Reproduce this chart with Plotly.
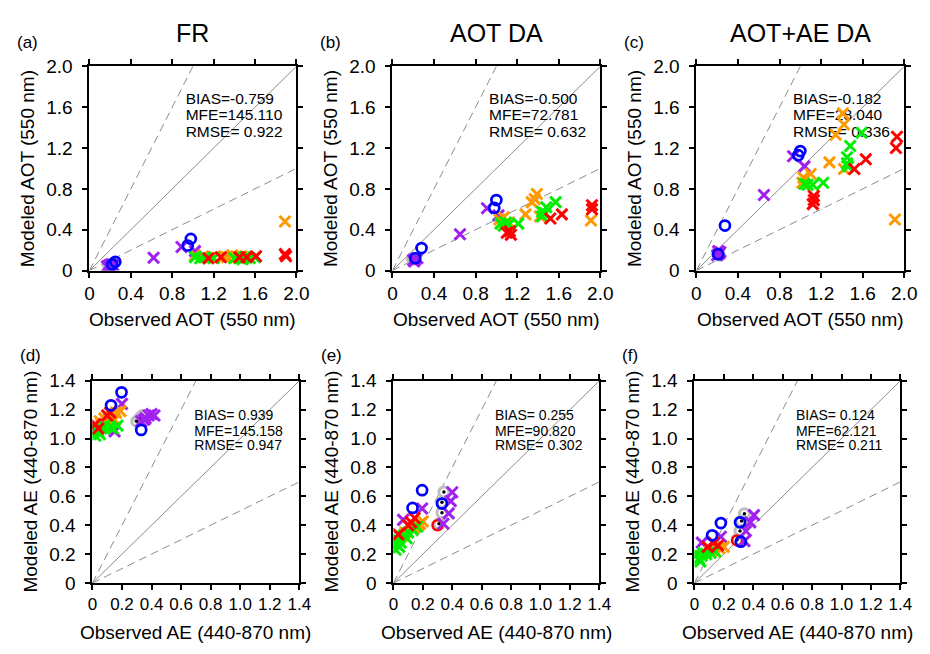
import plotly.graph_objects as go

# ---------------- text / ticks ----------------
COL_TITLES = ["FR", "AOT DA", "AOT+AE DA"]
PANEL_LABELS = ["(a)", "(b)", "(c)", "(d)", "(e)", "(f)"]
AOT_TICKS = [0, 0.4, 0.8, 1.2, 1.6, 2.0]
AOT_TICKTEXT = ["0", "0.4", "0.8", "1.2", "1.6", "2.0"]
AE_TICKS = [0, 0.2, 0.4, 0.6, 0.8, 1.0, 1.2, 1.4]
AE_TICKTEXT = ["0", "0.2", "0.4", "0.6", "0.8", "1.0", "1.2", "1.4"]
X_TITLES = ["Observed AOT (550 nm)", "Observed AE (440-870 nm)"]
Y_TITLES = ["Modeled AOT (550 nm)", "Modeled AE (440-870 nm)"]
STATS_BIAS = ["BIAS=-0.759", "BIAS=-0.500", "BIAS=-0.182", "BIAS= 0.939", "BIAS= 0.255", "BIAS= 0.124"]
STATS_MFE = ["MFE=145.110", "MFE=72.781", "MFE=28.040", "MFE=145.158", "MFE=90.820", "MFE=62.121"]
STATS_RMSE = ["RMSE= 0.922", "RMSE= 0.632", "RMSE= 0.336", "RMSE= 0.947", "RMSE= 0.302", "RMSE= 0.211"]

# ---------------- data (observed, modeled) ----------------
# (a) FR  AOT
A_RED = [(1.89, 0.16), (1.90, 0.14), (1.61, 0.14), (1.45, 0.13), (1.27, 0.13), (1.15, 0.12), (1.52, 0.13)]
A_ORANGE = [(1.89, 0.48), (1.02, 0.15), (1.10, 0.14), (1.18, 0.13), (1.30, 0.14), (1.38, 0.15), (1.42, 0.14), (1.47, 0.14), (1.33, 0.13)]
A_GREEN = [(1.02, 0.13), (1.07, 0.12), (1.12, 0.13), (1.20, 0.12), (1.45, 0.12), (1.50, 0.13), (1.55, 0.12), (1.48, 0.11), (1.40, 0.12), (1.60, 0.13)]
A_PURPLE = [(0.89, 0.23), (1.02, 0.19), (0.62, 0.125), (0.19, 0.05), (0.21, 0.06), (0.17, 0.04), (0.23, 0.05), (0.20, 0.03)]
A_BLUE = [(0.98, 0.31), (0.95, 0.245), (0.25, 0.085), (0.22, 0.06)]
A_GRAY = [(0.18, 0.06), (0.20, 0.05)]
A_REDO = []

# (b) AOT DA  AOT
B_RED = [(1.92, 0.64), (1.92, 0.60), (1.63, 0.55), (1.52, 0.51), (1.13, 0.385), (1.14, 0.35), (1.10, 0.37)]
B_ORANGE = [(1.91, 0.49), (1.39, 0.75), (1.37, 0.70), (1.34, 0.67), (1.42, 0.53), (1.28, 0.55), (1.03, 0.50), (1.07, 0.52), (1.12, 0.47)]
B_GREEN = [(1.57, 0.67), (1.48, 0.62), (1.44, 0.575), (1.44, 0.53), (1.21, 0.46), (1.12, 0.45), (1.04, 0.46), (1.07, 0.44), (1.09, 0.47), (1.47, 0.56)]
B_PURPLE = [(0.91, 0.61), (0.65, 0.355), (1.02, 0.54), (0.22, 0.11), (0.20, 0.10), (0.24, 0.12), (0.21, 0.09)]
B_BLUE = [(1.00, 0.69), (0.98, 0.615), (0.28, 0.22), (0.22, 0.12)]
B_GRAY = [(0.19, 0.12), (0.21, 0.11)]
B_REDO = []

# (c) AOT+AE DA  AOT
C_RED = [(1.93, 1.31), (1.92, 1.20), (1.63, 1.09), (1.52, 0.995), (1.13, 0.73), (1.13, 0.69), (1.12, 0.65)]
C_ORANGE = [(1.91, 0.50), (1.41, 1.54), (1.42, 1.43), (1.34, 1.33), (1.28, 1.06), (1.42, 0.995), (1.10, 0.945), (1.03, 0.91), (1.02, 0.86)]
C_GREEN = [(1.59, 1.35), (1.48, 1.22), (1.45, 1.11), (1.45, 1.05), (1.22, 0.86), (1.12, 0.84), (1.04, 0.85), (1.07, 0.84), (1.46, 1.02)]
C_PURPLE = [(0.93, 1.12), (1.04, 1.02), (0.65, 0.74), (0.22, 0.165), (0.20, 0.15), (0.23, 0.18), (0.21, 0.19)]
C_BLUE = [(1.00, 1.17), (0.98, 1.13), (0.275, 0.44), (0.21, 0.16)]
C_GRAY = [(0.20, 0.17), (0.22, 0.15)]
C_REDO = []

# (d) FR  AE
D_RED = [(0.02, 1.10), (0.10, 1.16), (0.12, 1.18), (0.04, 1.07)]
D_ORANGE = [(0.05, 1.12), (0.08, 1.14), (0.10, 1.16), (0.13, 1.15), (0.16, 1.18), (0.19, 1.19), (0.06, 1.10), (0.15, 1.13), (0.11, 1.13)]
D_GREEN = [(0.02, 1.02), (0.04, 1.05), (0.06, 1.07), (0.08, 1.09), (0.05, 1.03), (0.12, 1.08), (0.17, 1.09), (0.14, 1.07), (0.03, 1.06)]
D_PURPLE = [(0.20, 1.24), (0.15, 1.05), (0.33, 1.12), (0.36, 1.14), (0.38, 1.16), (0.40, 1.17), (0.42, 1.16), (0.35, 1.13), (0.02, 1.08)]
D_BLUE = [(0.197, 1.32), (0.126, 1.23), (0.33, 1.06)]
D_GRAY = [(0.30, 1.12), (0.32, 1.14), (0.34, 1.16)]
D_REDO = []

# (e) AOT DA  AE
E_RED = [(0.144, 0.45), (0.033, 0.337), (0.12, 0.42), (0.10, 0.40)]
E_ORANGE = [(0.20, 0.427), (0.17, 0.40), (0.14, 0.38), (0.08, 0.35), (0.05, 0.32), (0.18, 0.41)]
E_GREEN = [(0.02, 0.27), (0.03, 0.30), (0.05, 0.28), (0.07, 0.33), (0.10, 0.35), (0.13, 0.37), (0.16, 0.39), (0.04, 0.25), (0.09, 0.31), (0.015, 0.23)]
E_PURPLE = [(0.195, 0.516), (0.066, 0.437), (0.40, 0.628), (0.39, 0.567), (0.376, 0.482), (0.34, 0.41)]
E_BLUE = [(0.195, 0.643), (0.13, 0.52), (0.33, 0.55)]
E_GRAY = [(0.343, 0.63), (0.33, 0.56), (0.33, 0.487), (0.31, 0.41)]
E_REDO = [(0.30, 0.40)]

# (f) AOT+AE DA  AE
F_RED = [(0.13, 0.28), (0.09, 0.25), (0.16, 0.26)]
F_ORANGE = [(0.17, 0.24), (0.14, 0.22), (0.20, 0.25), (0.11, 0.22)]
F_GREEN = [(0.03, 0.17), (0.05, 0.19), (0.08, 0.20), (0.11, 0.21), (0.14, 0.22), (0.04, 0.15), (0.06, 0.21), (0.02, 0.20)]
F_PURPLE = [(0.18, 0.32), (0.05, 0.28), (0.405, 0.47), (0.38, 0.42), (0.35, 0.36), (0.34, 0.29)]
F_BLUE = [(0.18, 0.415), (0.12, 0.33), (0.315, 0.286), (0.31, 0.42)]
F_GRAY = [(0.34, 0.48), (0.32, 0.43), (0.31, 0.36), (0.29, 0.30)]
F_REDO = [(0.29, 0.295)]

PANELS = [
    (A_GRAY, A_PURPLE, A_ORANGE, A_GREEN, A_RED, A_BLUE, A_REDO),
    (B_GRAY, B_PURPLE, B_ORANGE, B_GREEN, B_RED, B_BLUE, B_REDO),
    (C_GRAY, C_PURPLE, C_ORANGE, C_GREEN, C_RED, C_BLUE, C_REDO),
    (D_GRAY, D_PURPLE, D_ORANGE, D_GREEN, D_RED, D_BLUE, D_REDO),
    (E_GRAY, E_PURPLE, E_ORANGE, E_GREEN, E_RED, E_BLUE, E_REDO),
    (F_GRAY, F_PURPLE, F_ORANGE, F_GREEN, F_RED, F_BLUE, F_REDO),
]

# ---------------- layout geometry (page pixels) ----------------
OFF = 8                      # default body margin of the html page
W, H = 930 - OFF, 654 - OFF  # figure size so that it fits the window
PX_X = [(86, 297), (395, 607), (705, 917), (89, 300), (396, 606), (703, 913)]
PX_Y = [(58, 269)] * 3 + [(383, 592)] * 3


def fx(px):
    return (px - OFF) / W


def fy(py):
    return 1 - (py - OFF) / H


RED, ORANGE, GREEN, PURPLE, BLUE = "#ff0000", "#ff9900", "#00ee00", "#a020f0", "#0000ff"
REFCOL = "#8c8c8c"
FONT = "Liberation Sans, Arial, Helvetica, sans-serif"

fig = go.Figure()


def xs(pts):
    return [p[0] for p in pts]


def ys(pts):
    return [p[1] for p in pts]


for i in range(6):
    n = "" if i == 0 else str(i + 1)
    xa, ya = "x" + n, "y" + n
    top = i < 3
    vmax = 2.0 if top else 1.4
    # reference lines 1:1, 2:1, 1:2
    fig.add_trace(go.Scatter(x=[0, vmax], y=[0, vmax], mode="lines", xaxis=xa, yaxis=ya,
                             line=dict(color=REFCOL, width=1), hoverinfo="skip"))
    fig.add_trace(go.Scatter(x=[0, vmax / 2], y=[0, vmax], mode="lines", xaxis=xa, yaxis=ya,
                             line=dict(color=REFCOL, width=1, dash="8px,5px"), hoverinfo="skip"))
    fig.add_trace(go.Scatter(x=[0, vmax], y=[0, vmax / 2], mode="lines", xaxis=xa, yaxis=ya,
                             line=dict(color=REFCOL, width=1, dash="8px,5px"), hoverinfo="skip"))
    # stats text (below markers)
    if top:
        tx, tys, fs = 0.93, [1.67, 1.51, 1.35], 15.5
    else:
        tx, tys, fs = 0.69, [1.15, 1.045, 0.945], 14
    fig.add_trace(go.Scatter(x=[tx] * 3, y=tys, mode="text", xaxis=xa, yaxis=ya,
                             text=[STATS_BIAS[i], STATS_MFE[i], STATS_RMSE[i]],
                             textposition="middle right",
                             textfont=dict(family=FONT, size=fs, color="black"), hoverinfo="skip"))
    gray, purple, orange, green, red, blue, redo = PANELS[i]
    # gray rings with black dot
    fig.add_trace(go.Scatter(x=xs(gray), y=ys(gray), mode="markers", xaxis=xa, yaxis=ya,
                             marker=dict(symbol="circle-open", size=10, color="#bdbdbd", line=dict(width=3, color="#bdbdbd"))))
    fig.add_trace(go.Scatter(x=xs(gray), y=ys(gray), mode="markers", xaxis=xa, yaxis=ya,
                             marker=dict(symbol="circle", size=3.5, color="black")))
    fig.add_trace(go.Scatter(x=xs(redo), y=ys(redo), mode="markers", xaxis=xa, yaxis=ya,
                             marker=dict(symbol="circle-open", size=10, color=RED, line=dict(width=2.5, color=RED))))
    for pts, col in [(purple, PURPLE), (orange, ORANGE), (green, GREEN), (red, RED)]:
        fig.add_trace(go.Scatter(x=xs(pts), y=ys(pts), mode="markers", xaxis=xa, yaxis=ya,
                                 marker=dict(symbol="x-thin-open", size=11, color=col, line=dict(width=3, color=col))))
    fig.add_trace(go.Scatter(x=xs(blue), y=ys(blue), mode="markers", xaxis=xa, yaxis=ya,
                             marker=dict(symbol="circle-open", size=10, color=BLUE, line=dict(width=2.7, color=BLUE))))

    x0, x1 = PX_X[i]
    y0, y1 = PX_Y[i]
    axis_common = dict(range=[0, vmax], showgrid=False, zeroline=False, showline=True, linecolor="black",
                       linewidth=2, mirror="allticks", ticks="outside", ticklen=5, tickwidth=2,
                       tickcolor="black", fixedrange=True)
    tv = AOT_TICKS if top else AE_TICKS
    tt = AOT_TICKTEXT if top else AE_TICKTEXT
    fig.layout["xaxis" + n] = dict(axis_common, domain=[fx(x0), fx(x1)], anchor=ya,
                                   tickvals=tv, ticktext=tt,
                                   tickfont=dict(family=FONT, size=19 if top else 17, color="black"))
    fig.layout["yaxis" + n] = dict(axis_common, domain=[fy(y1), fy(y0)], anchor=xa,
                                   tickvals=tv, ticktext=tt, ticklabelstandoff=6,
                                   tickfont=dict(family=FONT, size=19, color="black"))

annotations = []
for c in range(3):
    x0, x1 = PX_X[c]
    annotations.append(dict(text=COL_TITLES[c], x=fx((x0 + x1) / 2), y=fy(23), xref="paper", yref="paper",
                            showarrow=False, xanchor="center", yanchor="middle",
                            font=dict(family=FONT, size=25, color="black")))
for i in range(6):
    x0, x1 = PX_X[i]
    y0, y1 = PX_Y[i]
    top = i < 3
    annotations.append(dict(text=PANEL_LABELS[i], x=fx(x0 - 76), y=fy(33 if top else 357),
                            xref="paper", yref="paper", showarrow=False, xanchor="left", yanchor="middle",
                            font=dict(family=FONT, size=17, color="black")))
    annotations.append(dict(text=X_TITLES[0 if top else 1], x=fx((x0 + x1) / 2), y=fy(y1 + 51),
                            xref="paper", yref="paper", showarrow=False, xanchor="center", yanchor="middle",
                            font=dict(family=FONT, size=19, color="black")))
    annotations.append(dict(text=Y_TITLES[0 if top else 1], x=fx(x0 - 63), y=fy((y0 + y1) / 2),
                            xref="paper", yref="paper", showarrow=False, xanchor="center", yanchor="middle",
                            textangle=-90, font=dict(family=FONT, size=19, color="black")))

fig.update_layout(width=W, height=H, margin=dict(l=0, r=0, t=0, b=0), showlegend=False,
                  plot_bgcolor="white", paper_bgcolor="white", annotations=annotations)

fig.write_html("out.html")
